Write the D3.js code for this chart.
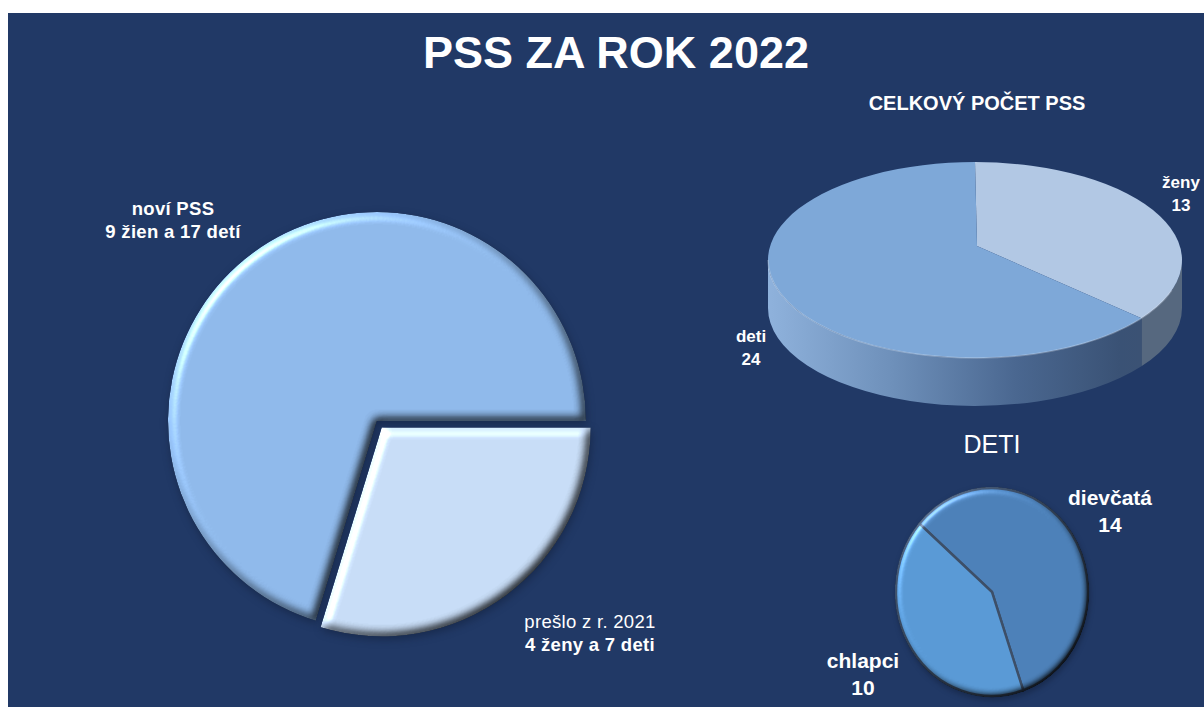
<!DOCTYPE html>
<html>
<head>
<meta charset="utf-8">
<script src="https://cdn.jsdelivr.net/npm/d3@7"></script>
<style>
  html, body { margin: 0; padding: 0; background: #fff; }
  svg text { font-family: "Liberation Sans", Arial, sans-serif; fill: #fff; }
</style>
</head>
<body>
<div id="chart"></div>
<script>
// values
const mainLabels = ['prešlo z r. 2021', 'noví PSS'];
const mainSubLabels = ['4 ženy a 7 deti', '9 žien a 17 detí'];
const mainValues = [11, 26];

const totalLabels = ['ženy', 'deti'];
const totalValues = [13, 24];

const childLabels = ['dievčatá', 'chlapci'];
const childValues = [14, 10];

const width = 1204;
const height = 707;

const svg = d3.select('#chart')
    .append('svg')
    .attr('width', width)
    .attr('height', height);

const defs = svg.append('defs');

// bevel + drop shadow filter, similar to the office "soft round" bevel
function makeBevel(id, blur, scale, shadow, specK) {
    const f = defs.append('filter')
        .attr('id', id)
        .attr('x', '-15%').attr('y', '-15%')
        .attr('width', '135%').attr('height', '135%')
        .attr('color-interpolation-filters', 'sRGB');
    f.append('feGaussianBlur').attr('in', 'SourceAlpha').attr('stdDeviation', blur).attr('result', 'b');
    f.append('feDiffuseLighting').attr('in', 'b').attr('surfaceScale', scale)
        .attr('diffuseConstant', 1).attr('lighting-color', '#fff').attr('result', 'light')
        .append('feDistantLight').attr('azimuth', 225).attr('elevation', 55);
    f.append('feComposite').attr('in', 'light').attr('in2', 'SourceAlpha').attr('operator', 'in').attr('result', 'lightIn');
    f.append('feComposite').attr('in', 'SourceGraphic').attr('in2', 'lightIn').attr('operator', 'arithmetic')
        .attr('k1', 1.22).attr('k2', 0).attr('k3', 0).attr('k4', 0).attr('result', 'shaded');
    f.append('feSpecularLighting').attr('in', 'b').attr('surfaceScale', scale)
        .attr('specularConstant', specK).attr('specularExponent', 35).attr('lighting-color', '#fff').attr('result', 'spec')
        .append('feDistantLight').attr('azimuth', 225).attr('elevation', 40);
    f.append('feComposite').attr('in', 'spec').attr('in2', 'SourceAlpha').attr('operator', 'in').attr('result', 'specIn');
    f.append('feComposite').attr('in', 'shaded').attr('in2', 'specIn').attr('operator', 'arithmetic')
        .attr('k1', 0).attr('k2', 1).attr('k3', 1).attr('k4', 0).attr('result', 'lit');
    f.append('feGaussianBlur').attr('in', 'SourceAlpha').attr('stdDeviation', shadow).attr('result', 'sb');
    f.append('feOffset').attr('in', 'sb').attr('dx', 1).attr('dy', 3).attr('result', 'so');
    f.append('feFlood').attr('flood-color', '#0a1428').attr('flood-opacity', 0.4).attr('result', 'sc');
    f.append('feComposite').attr('in', 'sc').attr('in2', 'so').attr('operator', 'in').attr('result', 'sh');
    const m = f.append('feMerge');
    m.append('feMergeNode').attr('in', 'sh');
    m.append('feMergeNode').attr('in', 'lit');
}
makeBevel('bevelBig', 5, 5, 4, 0.35);
makeBevel('bevelSmall', 3.5, 4, 3, 0.3);

// background panel
svg.append('rect')
    .attr('x', 8).attr('y', 13)
    .attr('width', width - 8).attr('height', height - 13)
    .attr('fill', '#213966');

// titles
svg.append('text')
    .attr('x', 616).attr('y', 68)
    .attr('text-anchor', 'middle')
    .style('font-size', '45px')
    .style('font-weight', 'bold')
    .text('PSS ZA ROK 2022');

svg.append('text')
    .attr('x', 977).attr('y', 110)
    .attr('text-anchor', 'middle')
    .style('font-size', '20px')
    .style('font-weight', 'bold')
    .text('CELKOVÝ POČET PSS');

svg.append('text')
    .attr('x', 992).attr('y', 453)
    .attr('text-anchor', 'middle')
    .style('font-size', '25px')
    .text('DETI');

// ---------- big pie (left) ----------
const mainColor = d3.scaleOrdinal().domain(mainLabels).range(['#c5daf4', '#8db7e8']);
const mainPie = d3.pie().sort(null).startAngle(Math.PI / 2).endAngle(Math.PI / 2 + 2 * Math.PI);
const mainArc = d3.arc().innerRadius(0).outerRadius(209);
const mainData = mainPie(mainValues);

const mainG = svg.append('g').attr('transform', 'translate(377,421)');
mainG.selectAll('path')
    .data(mainData.slice().reverse())
    .join('path')
    .attr('d', mainArc)
    .attr('fill', (d) => mainColor(mainLabels[d.index]))
    .attr('filter', 'url(#bevelBig)')
    .attr('transform', function (d) {
        // explode the "prešlo" slice a little
        if (d.index !== 0) return null;
        const a = (d.startAngle + d.endAngle) / 2;
        return `translate(${Math.sin(a) * 8},${-Math.cos(a) * 8})`;
    });

const mainLabelPos = [[590, 628], [173, 215]];
mainLabels.forEach(function (l, i) {
    const t = svg.append('text')
        .attr('x', mainLabelPos[i][0]).attr('y', mainLabelPos[i][1])
        .attr('text-anchor', 'middle')
        .style('font-size', '18.5px')
        .style('font-weight', i === 1 ? 'bold' : 'normal')
        .style('letter-spacing', '0.3px');
    t.append('tspan').attr('x', mainLabelPos[i][0]).text(l);
    t.append('tspan').attr('x', mainLabelPos[i][0]).attr('dy', 23)
        .style('font-weight', 'bold').text(mainSubLabels[i]);
});

// ---------- 3D pie (top right) ----------
const tp = {cx: 975, cy: 260, rx: 207, ry: 98, depth: 48, vx: 977, vy: 246};
const totalColor = d3.scaleOrdinal().domain(totalLabels).range(['#b2c8e4', '#7ea8d8']);
const totalPie = d3.pie().sort(null);
const totalData = totalPie(totalValues);

const grad = defs.append('linearGradient')
    .attr('id', 'sideGrad')
    .attr('gradientUnits', 'userSpaceOnUse')
    .attr('x1', tp.cx - tp.rx).attr('x2', tp.cx + tp.rx)
    .attr('y1', 0).attr('y2', 0);
grad.append('stop').attr('offset', 0).attr('stop-color', '#8fb2dc');
grad.append('stop').attr('offset', 0.3).attr('stop-color', '#6e90ba');
grad.append('stop').attr('offset', 0.6).attr('stop-color', '#4a6790');
grad.append('stop').attr('offset', 0.85).attr('stop-color', '#3a5275');
grad.append('stop').attr('offset', 1).attr('stop-color', '#3d5272');

function ePt(a, dy) {
    return [tp.cx + tp.rx * Math.sin(a), tp.cy - tp.ry * Math.cos(a) + (dy || 0)];
}

function sidePath(d) {
    const s0 = Math.max(d.startAngle, Math.PI / 2);
    const s1 = Math.min(d.endAngle, 3 * Math.PI / 2);
    if (s1 <= s0) return null;
    const p0 = ePt(s0), p1 = ePt(s1), q1 = ePt(s1, tp.depth), q0 = ePt(s0, tp.depth);
    return `M${p0}A${tp.rx},${tp.ry} 0 0 1 ${p1}L${q1}A${tp.rx},${tp.ry} 0 0 0 ${q0}Z`;
}

function topPath(d) {
    const p0 = ePt(d.startAngle), p1 = ePt(d.endAngle);
    const large = d.endAngle - d.startAngle > Math.PI ? 1 : 0;
    return `M${tp.vx},${tp.vy}L${p0}A${tp.rx},${tp.ry} 0 ${large} 1 ${p1}Z`;
}

const totalG = svg.append('g');
totalG.selectAll('path.side')
    .data(totalData)
    .join('path')
    .attr('class', 'side')
    .attr('d', sidePath)
    .attr('fill', (d) => d.index === 0 ? '#56687f' : 'url(#sideGrad)');

totalG.selectAll('path.top')
    .data(totalData)
    .join('path')
    .attr('class', 'top')
    .attr('d', topPath)
    .attr('fill', (d) => totalColor(totalLabels[d.index]));

// faint highlight along the front rim
totalG.append('path')
    .attr('d', `M${ePt(Math.PI * 1.5)}A${tp.rx},${tp.ry} 0 0 0 ${ePt(Math.PI * 0.6)}`)
    .attr('fill', 'none')
    .attr('stroke', 'rgba(255,255,255,0.25)')
    .attr('stroke-width', 1.5);

const totalLabelPos = [[1181, 188], [751, 342]];
totalLabels.forEach(function (l, i) {
    const t = svg.append('text')
        .attr('x', totalLabelPos[i][0]).attr('y', totalLabelPos[i][1])
        .attr('text-anchor', 'middle')
        .style('font-size', '17px')
        .style('font-weight', 'bold');
    t.append('tspan').attr('x', totalLabelPos[i][0]).text(l);
    t.append('tspan').attr('x', totalLabelPos[i][0]).attr('dy', 23).text(totalValues[i]);
});

// ---------- small pie (bottom right) ----------
const childColor = d3.scaleOrdinal().domain(childLabels).range(['#4b7fb7', '#5898d4']);
const childPie = d3.pie().sort(null)
    .startAngle(-49 * Math.PI / 180)
    .endAngle(-49 * Math.PI / 180 + 2 * Math.PI);
const childArc = d3.arc().innerRadius(0).outerRadius(100);
const childData = childPie(childValues);

const childG = svg.append('g')
    .attr('transform', 'translate(992,592) scale(0.96,1.04)')
    .attr('filter', 'url(#bevelSmall)');
childG.selectAll('path')
    .data(childData)
    .join('path')
    .attr('d', childArc)
    .attr('fill', (d) => childColor(childLabels[d.index]))
    .attr('stroke', '#3b4d66')
    .attr('stroke-width', 2.5)
    .attr('stroke-linejoin', 'round');

const childLabelPos = [[1110, 505], [863, 668]];
childLabels.forEach(function (l, i) {
    const t = svg.append('text')
        .attr('x', childLabelPos[i][0]).attr('y', childLabelPos[i][1])
        .attr('text-anchor', 'middle')
        .style('font-size', '21px')
        .style('font-weight', 'bold');
    t.append('tspan').attr('x', childLabelPos[i][0]).text(l);
    t.append('tspan').attr('x', childLabelPos[i][0]).attr('dy', 27).text(childValues[i]);
});
</script>
</body>
</html>
